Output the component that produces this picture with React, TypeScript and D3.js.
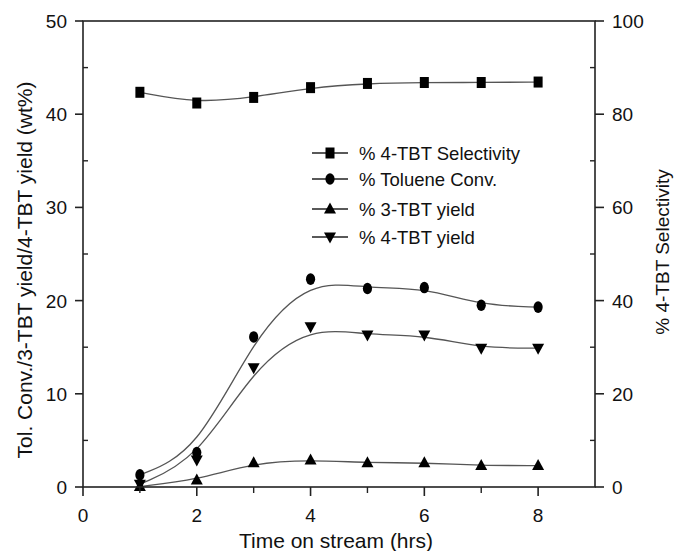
import React from 'react';
import * as d3 from 'd3';

// time on stream (hrs)
const hours = [1, 2, 3, 4, 5, 6, 7, 8];
// right axis (%)
const selectivity4TBT = [84.7, 82.4, 83.6, 85.7, 86.6, 86.8, 86.8, 86.9];
// left axis (wt%)
const tolueneConv = [1.3, 3.7, 16.1, 22.3, 21.3, 21.4, 19.5, 19.3];
const yield3TBT = [0.05, 0.75, 2.6, 2.9, 2.6, 2.6, 2.3, 2.3];
const yield4TBT = [0.3, 2.9, 12.8, 17.2, 16.3, 16.3, 14.9, 14.9];

const legendLabels = ['% 4-TBT Selectivity', '% Toluene Conv.', '% 3-TBT yield', '% 4-TBT yield'];
const xTicks = [0, 2, 4, 6, 8];
const leftTicks = [0, 10, 20, 30, 40, 50];
const rightTicks = [0, 20, 40, 60, 80, 100];

const W = 677;
const H = 551;
const M = { left: 83, right: 595, top: 21, bottom: 487 };
const FONT = '"Liberation Sans", Arial, sans-serif';

function Marker({ kind, x, y }: { kind: string; x: number; y: number }) {
  if (kind === 'square') return <rect x={x - 4.5} y={y - 5.5} width={9} height={11} fill="#000" />;
  if (kind === 'circle') return <ellipse cx={x} cy={y} rx={4.6} ry={5.8} fill="#000" />;
  if (kind === 'up')
    return <path d={`M${x},${y - 6.5}L${x + 6},${y + 4.5}L${x - 6},${y + 4.5}Z`} fill="#000" />;
  return <path d={`M${x - 6},${y - 4.5}L${x + 6},${y - 4.5}L${x},${y + 6.5}Z`} fill="#000" />;
}

export default function App() {
  const x = d3.scaleLinear().domain([0, 9]).range([M.left, M.right]);
  const yL = d3.scaleLinear().domain([0, 50]).range([M.bottom, M.top]);
  const yR = d3.scaleLinear().domain([0, 100]).range([M.bottom, M.top]);

  const series = [
    { vals: selectivity4TBT, y: yR, kind: 'square' },
    { vals: tolueneConv, y: yL, kind: 'circle' },
    { vals: yield3TBT, y: yL, kind: 'up' },
    { vals: yield4TBT, y: yL, kind: 'down' },
  ];

  const line = (vals: number[], y: d3.ScaleLinear<number, number>) =>
    d3
      .line<number>()
      .x((_, i) => x(hours[i]))
      .y((d) => y(d))
      .curve(d3.curveBasis)(vals) || '';

  const legendY = [153, 179, 209, 237];
  const minorX = [1, 3, 5, 7];
  const minorL = [5, 15, 25, 35, 45];
  const minorR = [10, 30, 50, 70, 90];

  return (
    <svg width={W} height={H} style={{ position: 'absolute', left: 0, top: 0 }} fontFamily={FONT}>
      <rect width={W} height={H} fill="#fff" />
      {/* fitted curves */}
      {series.map((s, i) => (
        <path key={i} d={line(s.vals, s.y)} fill="none" stroke="#555" strokeWidth={1.3} />
      ))}
      {/* markers */}
      {series.map((s, i) =>
        s.vals.map((v, j) => <Marker key={`${i}-${j}`} kind={s.kind} x={x(hours[j])} y={s.y(v)} />)
      )}

      {/* frame */}
      <rect
        x={M.left}
        y={M.top}
        width={M.right - M.left}
        height={M.bottom - M.top}
        fill="none"
        stroke="#222"
        strokeWidth={1.6}
      />

      {/* x axis */}
      {xTicks.map((t) => (
        <g key={t}>
          <line x1={x(t)} x2={x(t)} y1={M.bottom} y2={M.bottom + 9} stroke="#222" strokeWidth={1.6} />
          <text x={x(t)} y={522} fontSize={19} textAnchor="middle" fill="#111">
            {t}
          </text>
        </g>
      ))}
      {minorX.map((t) => (
        <line key={t} x1={x(t)} x2={x(t)} y1={M.bottom} y2={M.bottom + 6} stroke="#222" strokeWidth={1.4} />
      ))}
      <text x={336} y={548} fontSize={21} textAnchor="middle" fill="#111">
        Time on stream (hrs)
      </text>

      {/* left axis */}
      {leftTicks.map((t) => (
        <g key={t}>
          <line x1={M.left - 8} x2={M.left} y1={yL(t)} y2={yL(t)} stroke="#222" strokeWidth={1.6} />
          <text x={67} y={yL(t) + 7} fontSize={19} textAnchor="end" fill="#111">
            {t}
          </text>
        </g>
      ))}
      {minorL.map((t) => (
        <line key={t} x1={M.left} x2={M.left + 5} y1={yL(t)} y2={yL(t)} stroke="#222" strokeWidth={1.4} />
      ))}
      <text
        transform={`translate(24,270) rotate(-90)`}
        fontSize={21}
        textAnchor="middle"
        dominantBaseline="central"
        fill="#111"
      >
        Tol. Conv./3-TBT yield/4-TBT yield (wt%)
      </text>

      {/* right axis */}
      {rightTicks.map((t) => (
        <g key={t}>
          <line x1={M.right} x2={M.right + 9} y1={yR(t)} y2={yR(t)} stroke="#222" strokeWidth={1.6} />
          <text x={612} y={yR(t) + 7} fontSize={19} textAnchor="start" fill="#111">
            {t}
          </text>
        </g>
      ))}
      {minorR.map((t) => (
        <line key={t} x1={M.right - 5} x2={M.right} y1={yR(t)} y2={yR(t)} stroke="#222" strokeWidth={1.4} />
      ))}
      <text
        transform={`translate(662,252) rotate(-90)`}
        fontSize={19}
        textAnchor="middle"
        dominantBaseline="central"
        fill="#111"
      >
        % 4-TBT Selectivity
      </text>

      {/* legend */}
      {legendLabels.map((label, i) => (
        <g key={label}>
          <line x1={312} x2={348} y1={legendY[i]} y2={legendY[i]} stroke="#222" strokeWidth={1.5} />
          <Marker kind={series[i].kind} x={330} y={legendY[i]} />
          <text x={359} y={legendY[i] + 6.5} fontSize={18.5} fill="#111">
            {label}
          </text>
        </g>
      ))}
    </svg>
  );
}
